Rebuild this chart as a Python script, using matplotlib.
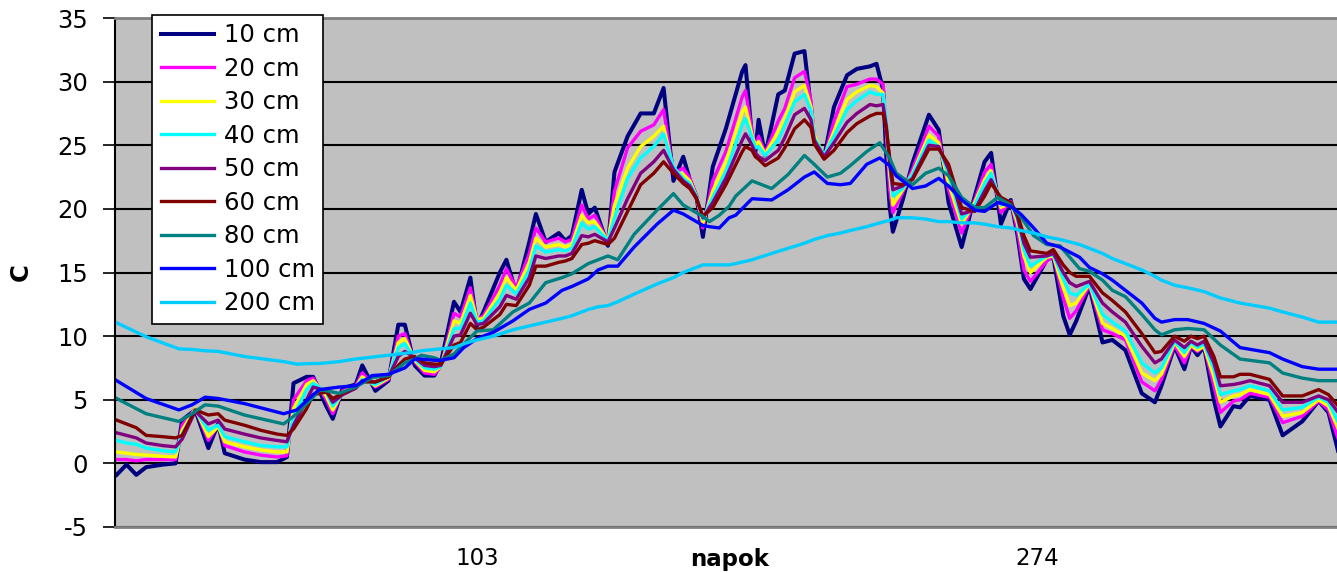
import matplotlib
matplotlib.use("Agg")
import matplotlib.pyplot as plt

plt.rcParams['font.family'] = ['DejaVu Sans']
plt.rcParams['axes.unicode_minus'] = False

# soil temperature by day, shallow layers share one day grid
days = [-7, -4, -1, 2, 7, 11, 13, 17, 21, 24,
        26, 32, 37, 42, 45, 47, 51, 53, 57, 59,
        62, 66, 68, 72, 76, 79, 81, 84, 87, 90,
        92, 96, 98, 101, 103, 105, 110, 112, 115, 119,
        121, 124, 128, 130, 132, 135, 137, 139, 143, 145,
        149, 153, 157, 160, 163, 166, 168, 170, 172, 175,
        179, 184, 185, 187, 188, 189, 191, 195, 197, 200,
        203, 205, 206, 209, 212, 216, 219, 223, 225, 227,
        228, 229, 230, 233, 236, 241, 244, 247, 251, 255,
        258, 260, 263, 266, 268, 270, 272, 277, 279, 282,
        284, 286, 290, 294, 297, 301, 306, 310, 312, 316,
        319, 321, 323, 325, 328, 330, 334, 336, 339, 345,
        349, 355, 360, 363, 366]

t10 = [-0.9, -0.1, -0.9, -0.3, -0.1, 0.0, 3.4, 4.2, 1.2, 3.1,
       0.8, 0.3, 0.1, 0.1, 0.5, 6.3, 6.8, 6.8, 4.5, 3.5,
       5.9, 6.2, 7.7, 5.7, 6.5, 10.9, 10.9, 7.7, 6.9, 6.9,
       7.9, 12.7, 11.9, 14.6, 10.8, 11.9, 15.0, 16.0, 13.4, 17.4,
       19.6, 17.4, 18.1, 17.5, 17.9, 21.5, 19.6, 20.1, 17.1, 22.9,
       25.7, 27.5, 27.5, 29.5, 22.2, 24.1, 22.3, 21.0, 17.8, 23.3,
       26.3, 30.8, 31.3, 25.6, 24.5, 27.0, 24.2, 29.0, 29.3, 32.2,
       32.4, 27.9, 25.3, 24.0, 28.0, 30.5, 31.0, 31.2, 31.4, 29.4,
       24.1, 20.2, 18.2, 20.7, 23.6, 27.4, 26.2, 20.5, 17.0, 21.0,
       23.7, 24.4, 18.8, 20.7, 18.0, 14.5, 13.7, 16.0, 16.2, 11.6,
       10.1, 11.2, 13.9, 9.5, 9.7, 8.9, 5.5, 4.8, 6.1, 9.2,
       7.4, 9.2, 8.5, 9.2, 5.0, 2.9, 4.5, 4.4, 5.3, 5.0,
       2.2, 3.3, 4.9, 4.0, 0.9]

t20 = [0.3, 0.3, 0.2, 0.3, 0.3, 0.3, 3.0, 4.3, 1.8, 3.0,
       1.4, 0.9, 0.65, 0.5, 0.6, 5.0, 6.5, 6.7, 5.0, 3.9,
       5.7, 6.1, 7.1, 6.0, 6.6, 10.0, 10.2, 8.0, 7.1, 7.0,
       7.6, 11.8, 11.5, 13.8, 11.3, 11.6, 14.0, 15.3, 13.8, 16.5,
       18.5, 17.4, 17.7, 17.4, 17.6, 20.3, 19.2, 19.5, 17.4, 21.4,
       24.8, 26.1, 26.6, 27.8, 22.8, 23.2, 22.4, 21.0, 18.5, 22.2,
       24.5, 28.8, 29.3, 26.1, 24.8, 25.7, 24.4, 26.9, 27.9, 30.3,
       30.8, 28.5, 25.6, 24.0, 26.9, 29.6, 29.8, 30.2, 30.2, 29.8,
       26.0, 21.5, 19.7, 21.3, 23.1, 26.5, 25.7, 21.5, 18.1, 20.7,
       22.9, 23.5, 19.7, 20.6, 18.4, 15.2, 14.3, 15.9, 16.3, 13.0,
       11.4, 12.0, 14.0, 10.5, 10.2, 9.7, 6.4, 5.7, 6.6, 9.3,
       7.9, 9.2, 8.8, 9.2, 6.1, 4.0, 4.9, 5.0, 5.5, 5.2,
       3.2, 3.7, 4.9, 4.2, 1.9]

t30 = [0.9, 0.8, 0.7, 0.65, 0.55, 0.5, 2.6, 4.3, 2.1, 2.9,
       1.7, 1.3, 1.05, 0.9, 0.9, 4.3, 6.2, 6.5, 5.3, 4.2,
       5.6, 6.0, 6.8, 6.1, 6.7, 9.5, 9.8, 8.1, 7.3, 7.2,
       7.6, 11.2, 11.0, 13.2, 11.3, 11.4, 13.4, 14.6, 13.6, 15.8,
       17.7, 17.0, 17.2, 17.0, 17.2, 19.5, 18.9, 19.0, 17.5, 20.3,
       23.2, 24.9, 25.7, 26.5, 23.0, 22.7, 22.2, 21.0, 18.9, 21.4,
       23.7, 27.6, 28.0, 25.8, 25.0, 25.3, 24.3, 26.1, 27.1, 29.2,
       29.7, 28.0, 25.8, 24.1, 26.1, 28.6, 29.2, 29.7, 29.6, 29.1,
       26.5, 22.8, 20.3, 21.5, 22.8, 25.8, 25.2, 22.0, 18.8, 20.5,
       22.3, 23.0, 20.1, 20.5, 18.9, 16.3, 15.0, 16.2, 16.3, 13.8,
       12.4, 12.6, 14.1, 11.0, 10.6, 10.0, 7.1, 6.5, 7.0, 9.5,
       8.4, 9.3, 8.9, 9.2, 6.8, 4.8, 5.3, 5.4, 5.8, 5.4,
       3.7, 4.0, 5.0, 4.5, 2.7]

t40 = [1.8, 1.6, 1.5, 1.2, 1.0, 0.9, 2.3, 4.2, 2.6, 3.0,
       2.1, 1.7, 1.4, 1.3, 1.3, 3.7, 5.8, 6.3, 5.6, 4.5,
       5.5, 6.0, 6.6, 6.2, 6.8, 9.1, 9.4, 8.2, 7.5, 7.4,
       7.6, 10.6, 10.6, 12.6, 11.1, 11.2, 12.9, 14.0, 13.3, 15.2,
       17.1, 16.6, 16.8, 16.7, 16.9, 18.9, 18.4, 18.6, 17.5, 19.3,
       22.4, 24.0, 24.9, 25.9, 23.3, 22.4, 22.0, 21.0, 19.2, 20.9,
       22.9, 26.6, 27.1, 25.6, 24.8, 24.9, 24.2, 25.4, 26.6, 28.4,
       29.0, 27.7, 25.6, 24.2, 25.7, 27.8, 28.5, 29.2, 29.0, 29.0,
       26.8, 23.4, 21.0, 21.6, 22.7, 25.4, 24.9, 22.7, 19.2, 20.3,
       22.0, 22.8, 20.3, 20.5, 19.2, 16.8, 15.5, 16.3, 16.4, 14.5,
       13.4, 13.2, 14.1, 11.7, 11.1, 10.4, 7.9, 7.1, 7.5, 9.6,
       8.7, 9.5, 9.1, 9.4, 7.4, 5.4, 5.7, 5.8, 6.1, 5.7,
       4.2, 4.4, 5.2, 4.8, 3.2]

t50 = [2.4, 2.2, 2.0, 1.6, 1.4, 1.3, 1.9, 4.1, 3.1, 3.4,
       2.7, 2.3, 2.0, 1.8, 1.7, 3.0, 5.0, 6.0, 5.7, 4.8,
       5.4, 5.9, 6.5, 6.4, 6.8, 8.4, 8.8, 8.3, 7.7, 7.6,
       7.7, 10.0, 10.1, 11.8, 10.9, 11.0, 12.3, 13.2, 12.9, 14.6,
       16.3, 16.1, 16.3, 16.3, 16.5, 17.9, 17.8, 18.0, 17.4, 18.5,
       20.8, 22.8, 23.7, 24.6, 23.1, 22.2, 21.8, 20.9, 19.3, 20.5,
       22.4, 25.4, 25.9, 25.0, 24.4, 24.1, 23.8, 24.6, 25.6, 27.4,
       27.9, 27.0, 25.4, 24.1, 25.2, 26.8, 27.5, 28.2, 28.1, 28.2,
       26.5, 23.6, 21.5, 21.8, 22.4, 25.0, 24.9, 23.1, 19.6, 19.9,
       21.4, 22.3, 20.6, 20.5, 19.4, 17.3, 16.2, 16.3, 16.5, 15.0,
       14.2, 13.9, 14.3, 12.6, 11.9, 11.1, 9.2, 7.9, 8.2, 9.7,
       9.1, 9.6, 9.3, 9.6, 7.9, 6.1, 6.2, 6.3, 6.5, 6.1,
       4.8, 4.8, 5.3, 5.0, 4.0]

t60 = [3.4, 3.1, 2.8, 2.2, 2.1, 2.0, 2.2, 4.2, 3.8, 3.9,
       3.4, 3.0, 2.6, 2.3, 2.2, 2.7, 4.3, 5.4, 5.6, 5.1,
       5.5, 6.0, 6.4, 6.4, 6.8, 7.7, 8.2, 8.4, 7.9, 7.8,
       7.8, 9.3, 9.5, 11.0, 10.5, 10.7, 11.7, 12.5, 12.4, 14.0,
       15.5, 15.5, 15.8, 15.9, 16.1, 17.2, 17.3, 17.5, 17.2, 17.7,
       19.8, 21.9, 22.8, 23.7, 22.8, 22.0, 21.6, 20.8, 19.4, 20.1,
       21.9, 24.5, 24.9, 24.6, 24.1, 23.9, 23.4, 24.0, 24.8, 26.3,
       27.0, 26.4, 25.1, 23.9, 24.6, 26.0, 26.7, 27.3, 27.5, 27.5,
       26.3, 24.1, 22.0, 21.9, 22.3, 24.7, 24.7, 23.5, 20.1, 19.8,
       21.0, 22.0, 20.9, 20.5, 19.6, 17.9, 16.7, 16.5, 16.8, 15.6,
       15.0, 14.7, 14.7, 13.4, 12.8, 11.9, 10.2, 8.7, 8.8, 10.0,
       9.6, 10.0, 9.8, 10.0, 8.4, 6.8, 6.8, 7.0, 7.0, 6.6,
       5.3, 5.3, 5.8, 5.4, 4.5]

# deeper layers change slowly, coarser day grid
days_deep = [-7, 2, 12, 16, 20, 24, 32, 44, 48, 53,
             55, 61, 66, 71, 76, 81, 84, 86, 90, 92,
             96, 99, 103, 108, 114, 119, 124, 129, 132, 137,
             140, 143, 146, 151, 158, 163, 166, 168, 172, 174,
             177, 180, 182, 187, 193, 198, 203, 206, 210, 214,
             217, 222, 226, 229, 231, 236, 240, 244, 247, 251,
             255, 258, 262, 266, 269, 273, 277, 281, 287, 290,
             294, 297, 301, 306, 310, 312, 316, 320, 325, 330,
             336, 345, 349, 355, 360, 366]

t80 = [5.1, 3.9, 3.3, 3.9, 4.6, 4.5, 3.8, 3.1, 3.9, 5.2,
       5.8, 5.5, 6.0, 6.75, 6.9, 7.9, 8.2, 8.5, 8.3, 8.1,
       8.6, 9.4, 10.4, 10.5, 11.9, 12.6, 14.2, 14.6, 14.9, 15.7,
       16.0, 16.3, 16.0, 18.0, 19.9, 21.2, 20.3, 20.0, 19.4, 19.0,
       19.5, 20.2, 21.0, 22.2, 21.6, 22.7, 24.2, 23.5, 22.5, 22.8,
       23.4, 24.5, 25.2, 24.0, 22.8, 21.9, 22.8, 23.2, 22.6, 20.9,
       20.1, 20.1, 20.9, 20.3, 19.4, 17.9, 17.2, 17.1, 15.3, 15.1,
       14.4, 13.6, 13.1, 11.7, 10.5, 10.1, 10.5, 10.6, 10.5, 9.3,
       8.2, 7.9, 7.1, 6.7, 6.5, 6.5]

t100 = [6.5, 5.1, 4.2, 4.6, 5.2, 5.1, 4.7, 3.9, 4.2, 5.4,
        5.8, 6.0, 6.1, 6.9, 7.0, 7.5, 8.2, 8.2, 8.1, 8.1,
        8.3, 9.1, 9.8, 10.3, 11.2, 12.1, 12.6, 13.6, 13.9, 14.5,
        15.2, 15.5, 15.5, 17.0, 18.8, 19.9, 19.6, 19.3, 18.7, 18.6,
        18.5, 19.3, 19.5, 20.8, 20.7, 21.5, 22.5, 22.9, 22.0, 21.9,
        22.0, 23.5, 24.0, 23.4, 22.6, 21.6, 21.8, 22.4, 21.8, 20.7,
        19.9, 19.8, 20.5, 20.2, 19.6, 18.5, 17.3, 17.0, 16.2, 15.4,
        14.9, 14.4, 13.6, 12.6, 11.4, 11.1, 11.3, 11.3, 11.0, 10.4,
        9.1, 8.7, 8.2, 7.6, 7.4, 7.4]

t200 = [11.05, 9.95, 9.0, 8.95, 8.85, 8.8, 8.4, 8.0, 7.8, 7.85,
        7.85, 8.0, 8.2, 8.35, 8.5, 8.65, 8.75, 8.85, 8.95, 9.0,
        9.1, 9.4, 9.7, 10.0, 10.5, 10.8, 11.1, 11.4, 11.6, 12.1,
        12.3, 12.4, 12.7, 13.3, 14.1, 14.6, 15.0, 15.2, 15.6, 15.6,
        15.6, 15.6, 15.7, 16.0, 16.5, 16.9, 17.3, 17.6, 17.9, 18.1,
        18.3, 18.6, 18.9, 19.1, 19.3, 19.3, 19.2, 19.0, 19.0, 18.9,
        18.9, 18.8, 18.6, 18.5, 18.3, 18.1, 17.8, 17.6, 17.2, 16.9,
        16.5, 16.1, 15.7, 15.2, 14.7, 14.4, 14.0, 13.8, 13.5, 13.0,
        12.6, 12.2, 11.9, 11.5, 11.1, 11.1]

depth_labels = ['10 cm', '20 cm', '30 cm', '40 cm', '50 cm',
                '60 cm', '80 cm', '100 cm', '200 cm']
colors = ['#000080', '#FF00FF', '#FFFF00', '#00FFFF', '#800080',
          '#800000', '#008080', '#0000FF', '#00CCFF']
widths = [2.9, 2.4, 2.4, 2.4, 2.4, 2.4, 2.4, 2.4, 2.4]

series = [(days, t10), (days, t20), (days, t30), (days, t40), (days, t50),
          (days, t60), (days_deep, t80), (days_deep, t100), (days_deep, t200)]

fig = plt.figure(figsize=(13.37, 5.73), dpi=100)
ax = fig.add_axes([115 / 1337, 46 / 573, 1222 / 1337, 509 / 573])
ax.set_facecolor('#C0C0C0')

for (x, y), lab, col, lw in zip(series, depth_labels, colors, widths):
    ax.plot(x, y, color=col, linewidth=lw, label=lab)

ax.set_xlim(-7.5, 365.6)
ax.set_ylim(-5, 35)
ax.set_yticks(range(-5, 36, 5))
ax.set_xticks([103, 274])
ax.tick_params(axis='x', length=0, pad=14.5, labelsize=16.5)
ax.tick_params(axis='y', length=8.5, width=1.2, pad=11, labelsize=17.5)

ax.set_axisbelow(True)
ax.yaxis.grid(True, color='black', linewidth=1.5)

ax.spines['right'].set_visible(False)
ax.spines['top'].set_color('#808080')
ax.spines['bottom'].set_color('#808080')
ax.spines['top'].set_linewidth(2)
ax.spines['bottom'].set_linewidth(2)
ax.spines['left'].set_linewidth(1.5)

ax.set_xlabel('napok', fontsize=16.5, fontweight='bold')
ax.xaxis.set_label_coords(0.503, -0.042)
ax.set_ylabel('C', fontsize=17.5, fontweight='bold')
ax.yaxis.set_label_coords(-0.067, 0.5)

leg = ax.legend(loc='upper left', bbox_to_anchor=(0.0303, 1.006),
                borderaxespad=0, fontsize=17.5, frameon=True, fancybox=False,
                handlelength=2.2, handletextpad=0.4, labelspacing=0.39,
                borderpad=0.35)
leg.get_frame().set_edgecolor('black')
leg.get_frame().set_linewidth(1.2)
leg.get_frame().set_facecolor('white')
leg.get_frame().set_alpha(1)
leg.set_zorder(10)

fig.savefig('out.png', dpi=100)
